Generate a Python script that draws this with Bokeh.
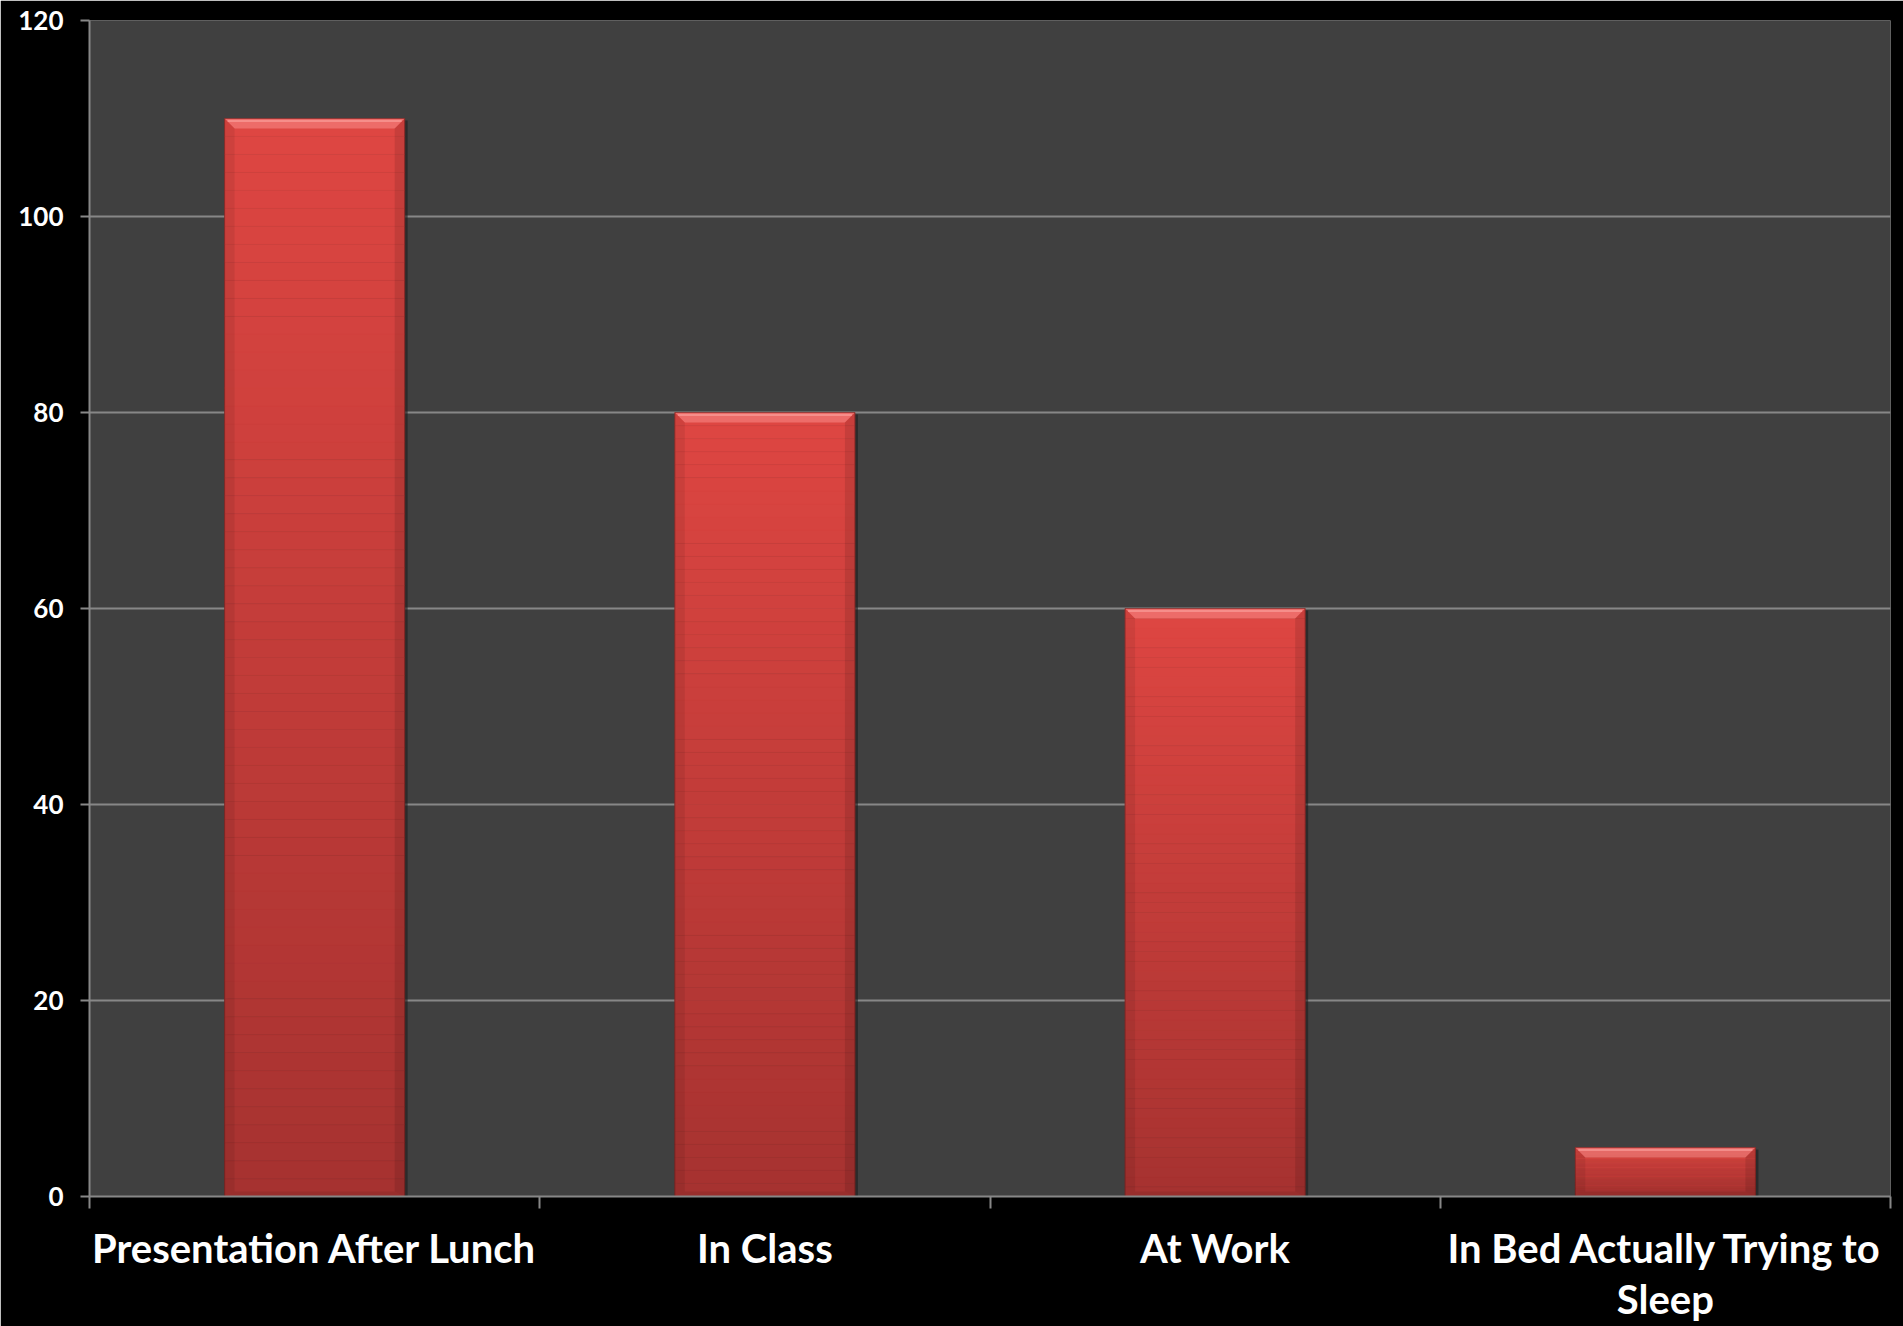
from bokeh.plotting import figure
from bokeh.models import Range1d, FixedTicker, LinearAxis
from bokeh.embed import file_html
from bokeh.resources import INLINE

# ---- data ----
categories = ["Presentation After Lunch", "In Class", "At Work", "In Bed Actually Trying to Sleep"]
category_labels = ["Presentation After Lunch", "In Class", "At Work", "In Bed Actually Trying to\nSleep"]
values = [110, 80, 60, 5]
y_ticks = [0, 20, 40, 60, 80, 100, 120]

# ---- style ----
W, H = 1903, 1326
FONT = "Lato"
BAR_W = 0.4
TOP_RGB = (222, 70, 66)
BOT_RGB = (166, 50, 48)
N_SLICES = 60
Y_MAX = 120
FRAME_H = 1177
FRAME_W = 1801
BEVEL_PX = 10

p = figure(width=W, height=H, output_backend="svg", toolbar_location=None,
           x_range=Range1d(0, len(categories)), y_range=Range1d(0, Y_MAX),
           x_axis_location=None, y_axis_location=None,
           min_border_left=89, min_border_right=13, min_border_top=20, min_border_bottom=129)
p.background_fill_color = "#404040"
p.border_fill_color = "#000000"
p.outline_line_color = None

# y axis
yax = LinearAxis(ticker=FixedTicker(ticks=y_ticks))
yax.axis_line_color = "#878787"
yax.axis_line_width = 2
yax.major_tick_line_color = "#878787"
yax.major_tick_line_width = 2
yax.major_tick_out = 9
yax.major_tick_in = 0
yax.minor_tick_line_color = None
yax.major_label_text_color = "#ffffff"
yax.major_label_text_font = FONT
yax.major_label_text_font_style = "bold"
yax.major_label_text_font_size = "26px"
yax.major_label_standoff = 17
p.add_layout(yax, "left")

# x axis: labels at centers, ticks at boundaries
centers = [i + 0.5 for i in range(len(categories))]
bounds = [float(i) for i in range(len(categories) + 1)]
xax = LinearAxis(ticker=FixedTicker(ticks=centers, minor_ticks=bounds))
xax.major_label_overrides = {c: lab for c, lab in zip(centers, category_labels)}
xax.axis_line_color = "#878787"
xax.axis_line_width = 2
xax.major_tick_line_color = None
xax.major_tick_out = 0
xax.major_tick_in = 0
xax.minor_tick_line_color = "#878787"
xax.minor_tick_line_width = 2
xax.minor_tick_out = 12
xax.minor_tick_in = 0
xax.major_label_text_color = "#ffffff"
xax.major_label_text_font = FONT
xax.major_label_text_font_style = "bold"
xax.major_label_text_font_size = "40px"
xax.major_label_text_line_height = 1.08
xax.major_label_standoff = 15
p.add_layout(xax, "below")

p.xgrid.visible = False
p.ygrid.ticker = FixedTicker(ticks=y_ticks)
p.ygrid.grid_line_color = "#878787"
p.ygrid.grid_line_width = 2

# ---- bars: gradient slices ----
def mix(a, b, t):
    return "#%02x%02x%02x" % tuple(int(round(a[k] + (b[k] - a[k]) * t)) for k in range(3))

L, R, B, T, C = [], [], [], [], []
for c, v in zip(centers, values):
    for s in range(N_SLICES):
        b = v * s / N_SLICES
        t = v * (s + 1) / N_SLICES
        L.append(c - BAR_W / 2)
        R.append(c + BAR_W / 2)
        B.append(b)
        T.append(t)
        C.append(mix(BOT_RGB, TOP_RGB, (s + 0.5) / N_SLICES))

# drop shadow
dx_px = FRAME_W / len(categories)
dy_px = FRAME_H / Y_MAX
sx = 3 / dx_px
p.quad(left=[c - BAR_W / 2 + sx for c in centers], right=[c + BAR_W / 2 + sx for c in centers],
       bottom=[0] * len(values), top=[v - 0.2 for v in values], fill_color="#1e1e1e", fill_alpha=0.6, line_color=None)

p.quad(left=L, right=R, bottom=B, top=T, fill_color=C, line_color=C, line_width=0.5)

# bevels
bx = BEVEL_PX / dx_px
by = BEVEL_PX / dy_px
top_xs, top_ys, left_xs, left_ys, right_xs, right_ys, bot_xs, bot_ys = [], [], [], [], [], [], [], []
for c, v in zip(centers, values):
    x0, x1 = c - BAR_W / 2, c + BAR_W / 2
    top_xs.append([x0, x1, x1 - bx, x0 + bx]); top_ys.append([v, v, v - by, v - by])
    left_xs.append([x0, x0 + bx, x0 + bx, x0]); left_ys.append([0, by * 0.5, v - by, v])
    right_xs.append([x1, x1 - bx, x1 - bx, x1]); right_ys.append([0, by * 0.5, v - by, v])
    bot_xs.append([x0, x1, x1 - bx, x0 + bx]); bot_ys.append([0, 0, by * 0.5, by * 0.5])

p.patches(top_xs, top_ys, fill_color="#ff9c98", fill_alpha=0.45, line_color=None)
p.patches(left_xs, left_ys, fill_color="#000000", fill_alpha=0.07, line_color=None)
p.patches(right_xs, right_ys, fill_color="#000000", fill_alpha=0.10, line_color=None)
p.patches(bot_xs, bot_ys, fill_color="#000000", fill_alpha=0.08, line_color=None)
# thin top highlight line and dark edge outline
p.segment(x0=[c - BAR_W / 2 + bx * 0.3 for c in centers], x1=[c + BAR_W / 2 - bx * 0.3 for c in centers],
          y0=[v - by * 0.25 for v in values], y1=[v - by * 0.25 for v in values],
          line_color="#ffb0ac", line_alpha=0.5, line_width=2)
p.quad(left=[c - BAR_W / 2 for c in centers], right=[c + BAR_W / 2 for c in centers],
       bottom=[0] * len(values), top=values, fill_color=None, line_color="#5a1a18", line_alpha=0.5, line_width=1)

html = file_html(p, INLINE)
html = html.replace("<body>", '<body style="background:#000000">', 1)
open("out.html", "w").write(html)
